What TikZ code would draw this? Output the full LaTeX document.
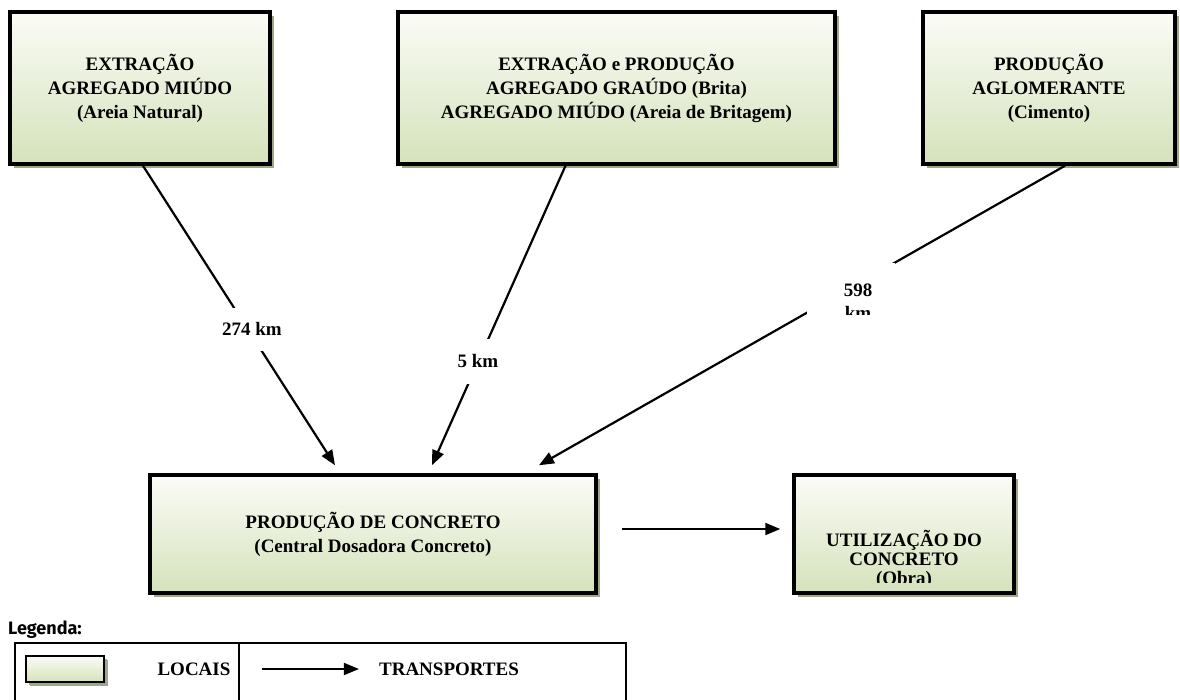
\documentclass[tikz,border=0pt]{standalone}
\usepackage{fontspec}
\setmainfont{Liberation Serif}
\newfontfamily\legfont{Fira Sans}
\usetikzlibrary{arrows.meta,shadows}

\definecolor{boxtop}{HTML}{FBFCF7}
\definecolor{boxbot}{HTML}{D5E2BB}
\definecolor{boxshadow}{HTML}{9EA889}

\tikzset{
  local/.style = {rectangle,
      draw = black,
      line width = 3.5pt,
      top color = boxtop,
      bottom color = boxbot,
      drop shadow = {shadow xshift = 4pt, shadow yshift = -4pt, fill = boxshadow, opacity = 1},
      align = center,
      font = \bfseries\fontsize{19}{24}\selectfont},
  dist/.style = {rectangle,
      fill = white,
      inner sep = 0pt,
      align = center,
      font = \bfseries\fontsize{19}{23}\selectfont},
  leg/.style = {inner sep = 0pt, font = \bfseries\fontsize{19}{23}\selectfont},
  transporte/.style = {line width = 2.2pt, -{Triangle[length = 15pt, width = 12pt]}},
}

\begin{document}
\begin{tikzpicture}[x = 1pt, y = -1pt]
\clip (0,0) rectangle (1180,699);

% source boxes
  \node[local,
      minimum width = 260pt,
      minimum height = 152pt] (areia) at (140,88) {EXTRAÇÃO\\AGREGADO MIÚDO\\(Areia Natural)};

  \node[local,
      minimum width = 437pt,
      minimum height = 152pt] (brita) at (616.5,88) {EXTRAÇÃO e PRODUÇÃO\\AGREGADO GRAÚDO (Brita)\\AGREGADO MIÚDO (Areia de Britagem)};

  \node[local,
      minimum width = 252pt,
      minimum height = 152pt] (cimento) at (1049,88) {PRODUÇÃO\\AGLOMERANTE\\(Cimento)};

% concrete plant and site
  \node[local,
      minimum width = 446pt,
      minimum height = 118pt] (central) at (373,534) {PRODUÇÃO DE CONCRETO\\(Central Dosadora Concreto)};

  \node[local,
      minimum width = 220pt,
      minimum height = 118pt] (obra) at (904,534) {};
\begin{scope}
  \clip (792,470) rectangle (1016,582);
  \node[leg, align = center, font = \bfseries\fontsize{19}{19}\selectfont] (obratxt) at (904,559) {UTILIZAÇÃO DO\\CONCRETO\\(Obra)};
\end{scope}

% transports
\draw[transporte] ([xshift = 3pt]areia.south) -- ([xshift = -38pt, yshift = 8pt]central.north);
\draw[transporte] ([xshift = -51pt]brita.south) -- ([xshift = 59pt, yshift = 8pt]central.north);
\draw[transporte] ([xshift = 16pt]cimento.south) -- ([xshift = 166pt, yshift = 8pt]central.north);
\draw[transporte] ([xshift = 24pt, yshift = 5pt]central.east) -- ([xshift = -12pt, yshift = 5pt]obra.west);

% distances
\node[dist, minimum width = 80pt, minimum height = 43pt] (d1) at (252,329) {274 km};
\node[dist, minimum width = 60pt, minimum height = 45pt] (d2) at (478,361) {5 km};
\node[dist, minimum width = 88pt, minimum height = 51pt] (d3) at (851,288.5) {};
\begin{scope}
  \clip (d3.south west) rectangle (d3.north east);
  \node[dist, fill = none, anchor = north] (d3txt) at (858,284) {598\\km};
\end{scope}

% legend
\node[anchor = west, inner sep = 0pt, font = \legfont\bfseries\fontsize{18}{20}\selectfont] (legenda) at (8,630) {Legenda:};
\draw[line width = 1.2pt] (15,643) rectangle (626,720);
\draw[line width = 1.2pt] (239,643) -- (239,720);
  \node[local,
      line width = 2pt,
      drop shadow = {shadow xshift = 3pt, shadow yshift = -3pt, fill = boxshadow, opacity = 1},
      minimum width = 78pt,
      minimum height = 26pt] (legbox) at (65,669) {};
\node[leg] (locais) at (194,669) {LOCAIS};
\node[leg] (transportes) at (449,669) {TRANSPORTES};
\coordinate (legseta) at (262,669);
\draw[transporte, line width = 1.8pt] (legseta) -- ([xshift = -20pt]transportes.west);
\end{tikzpicture}
\end{document}
